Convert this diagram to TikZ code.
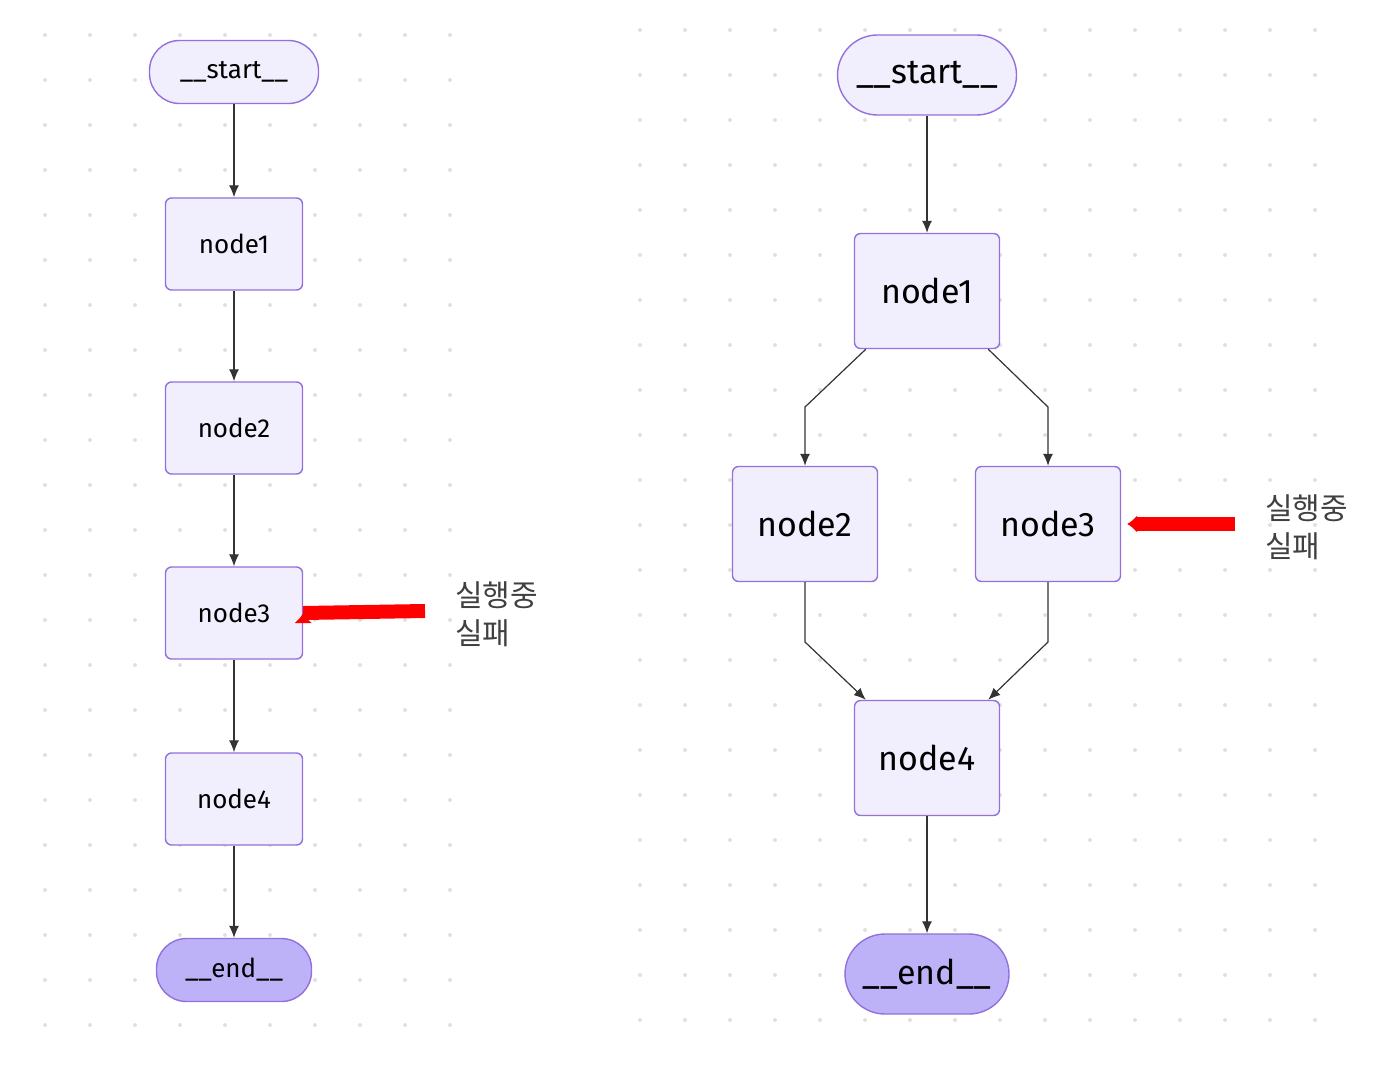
\documentclass[tikz,border=0pt]{standalone}
\usepackage{fontspec}
\setmainfont{Fira Sans}
\newfontfamily\kor{Noto Sans CJK KR}
\usetikzlibrary{arrows.meta}
\definecolor{nfill}{HTML}{F1EFFD}
\definecolor{ndraw}{HTML}{9370DB}
\definecolor{efill}{HTML}{BDB2F7}
\definecolor{ln}{HTML}{333333}
\begin{document}
\begin{tikzpicture}[x=0.5pt,y=-0.5pt]
\tikzstyle{nd}=[rectangle,rounded corners=3pt,draw=ndraw,fill=nfill,line width=0.7pt,text=black,inner sep=0pt]
\tikzstyle{term}=[nd,rounded corners=15pt]
\tikzstyle{ar}=[-{Latex[length=6pt,width=5pt]},draw=ln,line width=0.6pt]
\tikzstyle{red}=[-{Latex[length=5pt,width=9pt]},draw=red,line width=7pt]
\useasboundingbox (0,0) rectangle (1400,1069);
% dotted background
\foreach \x in {45,90,...,450} \foreach \y in {35,80,...,1030}
  \fill[black!12] (\x,\y) circle (1pt);
\foreach \x in {640,685,...,1350} \foreach \y in {30,75,...,1030}
  \fill[black!12] (\x,\y) circle (1pt);
% left graph
\begin{scope}[font=\fontsize{13}{15}\selectfont]
\node[term, minimum width=84.5pt, minimum height=31.5pt] (s1) at (234,72)  {\_\_start\_\_};
\node[nd,   minimum width=68.5pt, minimum height=46pt]   (n1) at (234,244) {node1};
\node[nd,   minimum width=68.5pt, minimum height=46pt]   (n2) at (234,428) {node2};
\node[nd,   minimum width=68.5pt, minimum height=46pt]   (n3) at (234,613) {node3};
\node[nd,   minimum width=68.5pt, minimum height=46pt]   (n4) at (234,799) {node4};
\node[term, fill=efill, minimum width=77.5pt, minimum height=31.5pt] (e1) at (234,970) {\_\_end\_\_};
\end{scope}
\draw[ar] (s1) -- (n1);
\draw[ar] (n1) -- (n2);
\draw[ar] (n2) -- (n3);
\draw[ar] (n3) -- (n4);
\draw[ar] (n4) -- (e1);
\coordinate (r1) at (425,611);
\draw[red] (r1) -- (n3.east) ++(0,0);
\node[anchor=north west, align=left, font=\kor\fontsize{15}{19}\selectfont, text=black!75] (t1) at (448,575) {실행중\\실패};
% right graph
\begin{scope}[font=\fontsize{17}{19}\selectfont]
\node[term, rounded corners=20pt, minimum width=89.5pt, minimum height=40pt] (s2) at (927,75) {\_\_start\_\_};
\node[nd, minimum width=72.5pt, minimum height=57.5pt] (m1) at (927,291)  {node1};
\node[nd, minimum width=72.5pt, minimum height=57.5pt] (m2) at (805,524)  {node2};
\node[nd, minimum width=72.5pt, minimum height=57.5pt] (m3) at (1048,524) {node3};
\node[nd, minimum width=72.5pt, minimum height=57.5pt] (m4) at (927,758)  {node4};
\node[term, rounded corners=20pt, fill=efill, minimum width=82pt, minimum height=40pt] (e2) at (927,974) {\_\_end\_\_};
\end{scope}
\draw[ar] (s2) -- (m1);
\draw[ar] (m1.south west) ++(12,0) -- (805,407) -- (m2.north);
\draw[ar] (m1.south east) ++(-12,0) -- (1048,407) -- (m3.north);
\draw[ar] (m2.south) -- (805,642) -- ([xshift=6pt]m4.north west);
\draw[ar] (m3.south) -- (1048,642) -- ([xshift=-6pt]m4.north east);
\draw[ar] (m4) -- (e2);
\coordinate (r2) at (1235,524);
\draw[red] (r2) -- ([xshift=3pt]m3.east);
\node[anchor=north west, align=left, font=\kor\fontsize{15}{19}\selectfont, text=black!75] (t2) at (1258,488) {실행중\\실패};
\end{tikzpicture}
\end{document}
